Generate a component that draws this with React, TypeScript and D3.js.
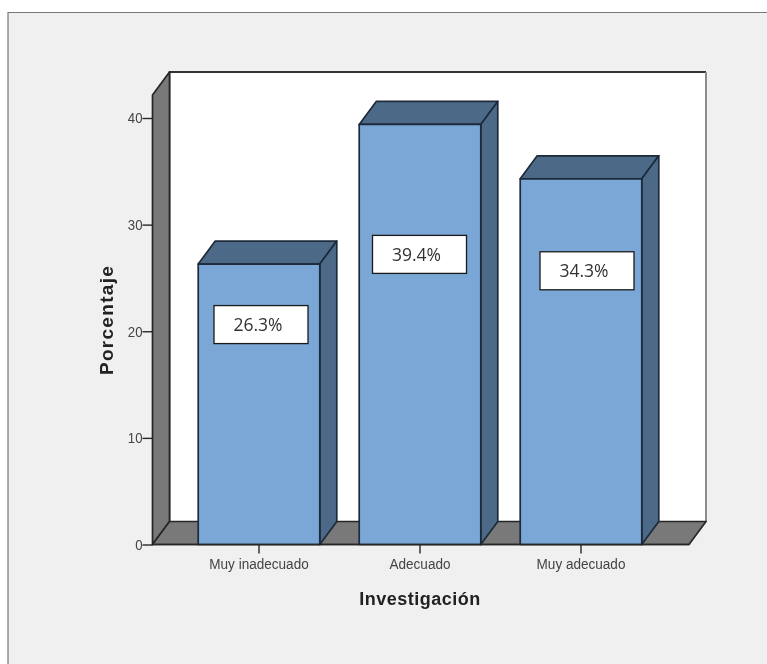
import { useEffect, useRef } from 'react';
import * as d3 from 'd3';

const categories = ['Muy inadecuado', 'Adecuado', 'Muy adecuado'];
const percentages = [26.3, 39.4, 34.3];
const percentLabels = ['26.3%', '39.4%', '34.3%'];
const yTicks = [0, 10, 20, 30, 40];

const svgWidth = 767;
const svgHeight = 664;

// 3D depth of the box, in pixels
const depthX = 17;
const depthY = -23;

function App() {
  const ref = useRef(null);

  useEffect(() => {
    const svg = d3.select(ref.current);
    svg.selectAll('*').remove();

    const x = d3
      .scaleBand()
      .domain(categories)
      .range([178.5, 661.5])
      .paddingInner(0.245)
      .paddingOuter(0.1225);
    const y = d3.scaleLinear().domain([0, 40]).range([544.5, 118]);

    const left = 152.5;
    const right = 689;
    const bottom = y(0);
    const top = 95;
    const line = '#262626';
    const narrow = 0.88;

    // Picture background and its frame
    svg.append('rect').attr('width', svgWidth).attr('height', svgHeight).attr('fill', '#fff');
    svg
      .append('rect')
      .attr('x', 8)
      .attr('y', 12)
      .attr('width', svgWidth - 8)
      .attr('height', svgHeight - 12)
      .attr('fill', '#f0f0f0');
    svg
      .append('path')
      .attr('d', `M8,${svgHeight}V12.5H${svgWidth}`)
      .attr('fill', 'none')
      .attr('stroke', '#777')
      .attr('stroke-width', 1.2);

    const box = svg.append('g').attr('stroke-linejoin', 'round');

    // Back wall
    box
      .append('rect')
      .attr('x', left + depthX)
      .attr('y', top + depthY)
      .attr('width', right - left)
      .attr('height', bottom - top)
      .attr('fill', '#fff');
    box
      .append('path')
      .attr('d', `M${left + depthX},${bottom + depthY}V${top + depthY}H${right + depthX}`)
      .attr('fill', 'none')
      .attr('stroke', '#333')
      .attr('stroke-width', 1.8);
    box
      .append('path')
      .attr('d', `M${right + depthX},${top + depthY}V${bottom + depthY}`)
      .attr('fill', 'none')
      .attr('stroke', '#8c8c8c')
      .attr('stroke-width', 2);

    // Left wall
    box
      .append('path')
      .attr(
        'd',
        `M${left},${bottom}V${top}L${left + depthX},${top + depthY}V${bottom + depthY}Z`
      )
      .attr('fill', '#797979')
      .attr('stroke', line)
      .attr('stroke-width', 1.7);

    // Floor
    box
      .append('path')
      .attr(
        'd',
        `M${left},${bottom}H${right}L${right + depthX},${bottom + depthY}H${left + depthX}Z`
      )
      .attr('fill', '#797979')
      .attr('stroke', line)
      .attr('stroke-width', 1.7);

    // Bars
    const bars = svg
      .append('g')
      .selectAll('g')
      .data(categories)
      .join('g')
      .attr('stroke', '#1c2a3a')
      .attr('stroke-width', 1.7)
      .attr('stroke-linejoin', 'round');

    const bw = x.bandwidth();
    bars
      .append('path')
      .attr('fill', '#4c6a88')
      .attr('d', (d, i) => {
        const x0 = x(d) as number;
        const y1 = y(percentages[i]);
        return `M${x0},${y1}L${x0 + depthX},${y1 + depthY}H${x0 + bw + depthX}L${x0 + bw},${y1}Z`;
      });
    bars
      .append('path')
      .attr('fill', '#4c6a88')
      .attr('d', (d, i) => {
        const x1 = (x(d) as number) + bw;
        const y1 = y(percentages[i]);
        return `M${x1},${y1}L${x1 + depthX},${y1 + depthY}V${bottom + depthY}L${x1},${bottom}Z`;
      });
    bars
      .append('rect')
      .attr('fill', '#7aa7d6')
      .attr('x', (d) => x(d) as number)
      .attr('y', (d, i) => y(percentages[i]))
      .attr('width', bw)
      .attr('height', (d, i) => bottom - y(percentages[i]));

    // y-axis
    const yAxis = svg
      .append('g')
      .attr('transform', `translate(${left}, 0)`)
      .call(d3.axisLeft(y).tickValues(yTicks).tickSize(10).tickSizeOuter(0).tickPadding(0));
    yAxis.select('.domain').remove();
    yAxis.selectAll('line').attr('stroke', line).attr('stroke-width', 1.4);
    yAxis
      .selectAll('text')
      .attr('x', -10 / narrow)
      .attr('transform', `scale(${narrow}, 1)`)
      .attr('font-family', '"Liberation Sans", sans-serif')
      .attr('font-size', 15)
      .attr('fill', '#444');

    // x-axis
    const xAxis = svg
      .append('g')
      .attr('transform', `translate(0, ${bottom})`)
      .call(d3.axisBottom(x).tickSize(9).tickSizeOuter(0).tickPadding(5));
    xAxis.select('.domain').remove();
    xAxis.selectAll('line').attr('stroke', line).attr('stroke-width', 1.4);
    xAxis
      .selectAll('text')
      .attr('transform', `scale(${narrow}, 1)`)
      .attr('font-family', '"Liberation Sans", sans-serif')
      .attr('font-size', 15.4)
      .attr('fill', '#444');
    svg
      .append('line')
      .attr('x1', left)
      .attr('x2', right)
      .attr('y1', bottom)
      .attr('y2', bottom)
      .attr('stroke', line)
      .attr('stroke-width', 1.7);

    // Hand-placed percentage boxes, offsets from the top centre of each bar
    const labelOffsetX = [2, -0.5, 6];
    const labelOffsetY = [60.5, 130, 92];
    const labels = svg
      .append('g')
      .selectAll('g')
      .data(percentLabels)
      .join('g')
      .attr('transform', (d, i) => {
        const cx = (x(categories[i]) as number) + bw / 2 + labelOffsetX[i];
        return `translate(${cx}, ${y(percentages[i]) + labelOffsetY[i]})`;
      });
    labels
      .append('rect')
      .attr('x', -47)
      .attr('y', -19)
      .attr('width', 94)
      .attr('height', 38)
      .attr('fill', '#fff')
      .attr('stroke', '#1a1a1a')
      .attr('stroke-width', 1.3);
    labels
      .append('text')
      .attr('text-anchor', 'middle')
      .attr('dy', '0.35em')
      .attr('x', -3)
      .attr('font-family', '"Open Sans", sans-serif')
      .attr('font-size', 17.5)
      .attr('fill', '#333')
      .text((d) => d);

    // Axis titles
    svg
      .append('text')
      .attr('x', 420)
      .attr('y', 604.5)
      .attr('text-anchor', 'middle')
      .attr('font-family', '"Liberation Sans", sans-serif')
      .attr('font-weight', 'bold')
      .attr('font-size', 18)
      .attr('letter-spacing', 0.5)
      .attr('fill', '#222')
      .text('Investigación');
    svg
      .append('text')
      .attr('transform', 'translate(112.5, 320) rotate(-90)')
      .attr('text-anchor', 'middle')
      .attr('font-family', '"Liberation Sans", sans-serif')
      .attr('font-weight', 'bold')
      .attr('font-size', 19)
      .attr('letter-spacing', 1.3)
      .attr('fill', '#222')
      .text('Porcentaje');
  }, []);

  return (
    <svg
      ref={ref}
      width={svgWidth}
      height={svgHeight}
      style={{
        position: 'absolute',
        left: 0,
        top: 0,
        display: 'block',
        filter: 'blur(0.45px)',
      }}
    ></svg>
  );
}

export default App;
